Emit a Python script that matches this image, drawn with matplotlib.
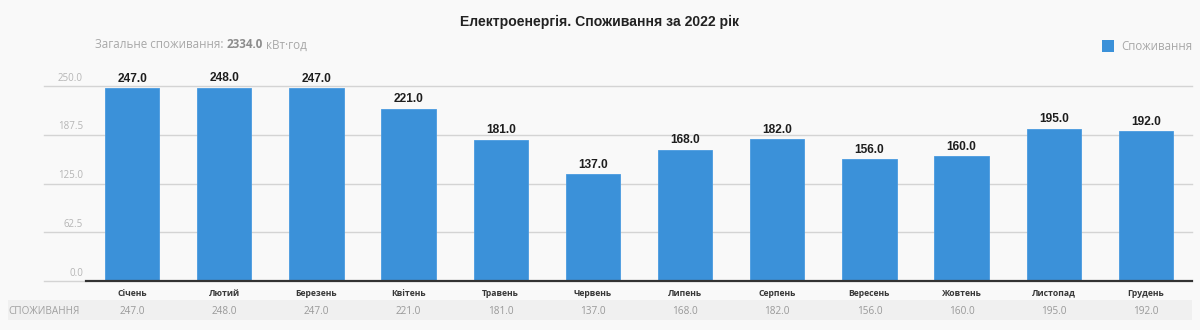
import matplotlib
matplotlib.use("Agg")
import matplotlib.pyplot as plt
import matplotlib.transforms as mtransforms
from matplotlib.patches import Rectangle
import numpy as np

months = ["Січень", "Лютий", "Березень", "Квітень", "Травень", "Червень",
          "Липень", "Серпень", "Вересень", "Жовтень", "Листопад", "Грудень"]
values = [247.0, 248.0, 247.0, 221.0, 181.0, 137.0, 168.0, 182.0, 156.0, 160.0, 195.0, 192.0]
yticks = [0.0, 62.5, 125.0, 187.5, 250.0]
title = "Електроенергія. Споживання за 2022 рік"
series_name = "Споживання"
row_label = "СПОЖИВАННЯ"
total = 2334.0

W, H = 1200, 330
BG = "#f9f9f9"
BAR = "#3b91d9"

fig = plt.figure(figsize=(W / 100, H / 100), dpi=100, facecolor=BG)

def fx(px):
    return px / W

def fy(py):
    return 1 - py / H

# table band (behind everything)
fig.patches.append(Rectangle((fx(8), fy(320)), fx(1192 - 8), (320 - 300) / H,
                             transform=fig.transFigure, facecolor="#f0f0f0",
                             edgecolor="none", zorder=-5))

ax_l, ax_r, ax_top, ax_bot = 86, 1192, 86, 281
ax = fig.add_axes([fx(ax_l), fy(ax_bot), fx(ax_r - ax_l), (ax_bot - ax_top) / H])
ax.set_facecolor("none")
ax.set_xlim(-0.5, len(months) - 0.5)
ax.set_ylim(0, 250)
for s in ax.spines.values():
    s.set_visible(False)
ax.set_xticks([])
ax.set_yticks([])

x = np.arange(len(months))
ax.bar(x, values, width=0.59, color=BAR, edgecolor="#4a9be0", linewidth=0.6, zorder=3)

trans = mtransforms.blended_transform_factory(ax.transAxes, ax.transData)
left_ext = (44 - ax_l) / (ax_r - ax_l)
lab_x = (83 - ax_l) / (ax_r - ax_l)
for t in yticks:
    x1 = 1 if t > 0 else 0
    ax.plot([left_ext, x1], [t, t], transform=trans, color="#d4d4d4", lw=1.0,
            clip_on=False, zorder=1)
    ax.text(lab_x, t + 3, f"{t:.1f}", transform=trans,
            ha="right", va="bottom", fontsize=7, color="#b5b5b5", family="Open Sans")
# baseline
ax.plot([0, 1], [0, 0], transform=trans, color="#333333", lw=1.6, clip_on=False, zorder=4)

# value labels
for xi, v in zip(x, values):
    ax.text(xi, v + 4.5, f"{v:.1f}", ha="center", va="bottom", fontsize=8.6,
            fontweight="bold", color="#1e1e1e", family="Liberation Sans", clip_on=False)

# category labels
xt = mtransforms.blended_transform_factory(ax.transData, fig.transFigure)
for xi, m in zip(x, months):
    ax.text(xi, fy(293), m, transform=xt, ha="center", va="center", fontsize=6.2,
            fontweight="bold", color="#383838", family="Open Sans")

# table row
fig.text(fx(8), fy(311), row_label, ha="left", va="center", fontsize=7.2,
         color="#a0a0a0", family="Open Sans")
for xi, v in zip(x, values):
    ax.text(xi, fy(311), f"{v:.1f}", transform=xt, ha="center", va="center",
            fontsize=7.2, color="#999999", family="Open Sans", clip_on=False)

# title
fig.text(0.5, fy(22), title, ha="center", va="center", fontsize=10.1,
         fontweight="bold", color="#222222", family="Liberation Sans")

# subtitle with bold total
fs_sub = 8.4
t1 = fig.text(fx(95), fy(45), "Загальне споживання: ", ha="left", va="center",
              fontsize=fs_sub, color="#a8a8a8", family="Open Sans")
fig.canvas.draw()
r = fig.canvas.get_renderer()
bb = t1.get_window_extent(r)
t2 = fig.text(bb.x1 / W, fy(45), f"{total:.1f}", ha="left", va="center",
              fontsize=fs_sub, fontweight="bold", color="#8c8c8c", family="Open Sans")
bb2 = t2.get_window_extent(r)
fig.text(bb2.x1 / W, fy(45), " кВт·год", ha="left", va="center",
         fontsize=fs_sub, color="#a8a8a8", family="Open Sans")

# legend
fig.patches.append(Rectangle((fx(1102), fy(52)), fx(12), 12 / H,
                             transform=fig.transFigure, facecolor=BAR,
                             edgecolor="none"))
fig.text(fx(1121), fy(46), series_name, ha="left", va="center", fontsize=8.3,
         color="#a8a8a8", family="Open Sans")

fig.savefig("out.png", dpi=100, facecolor=BG)
